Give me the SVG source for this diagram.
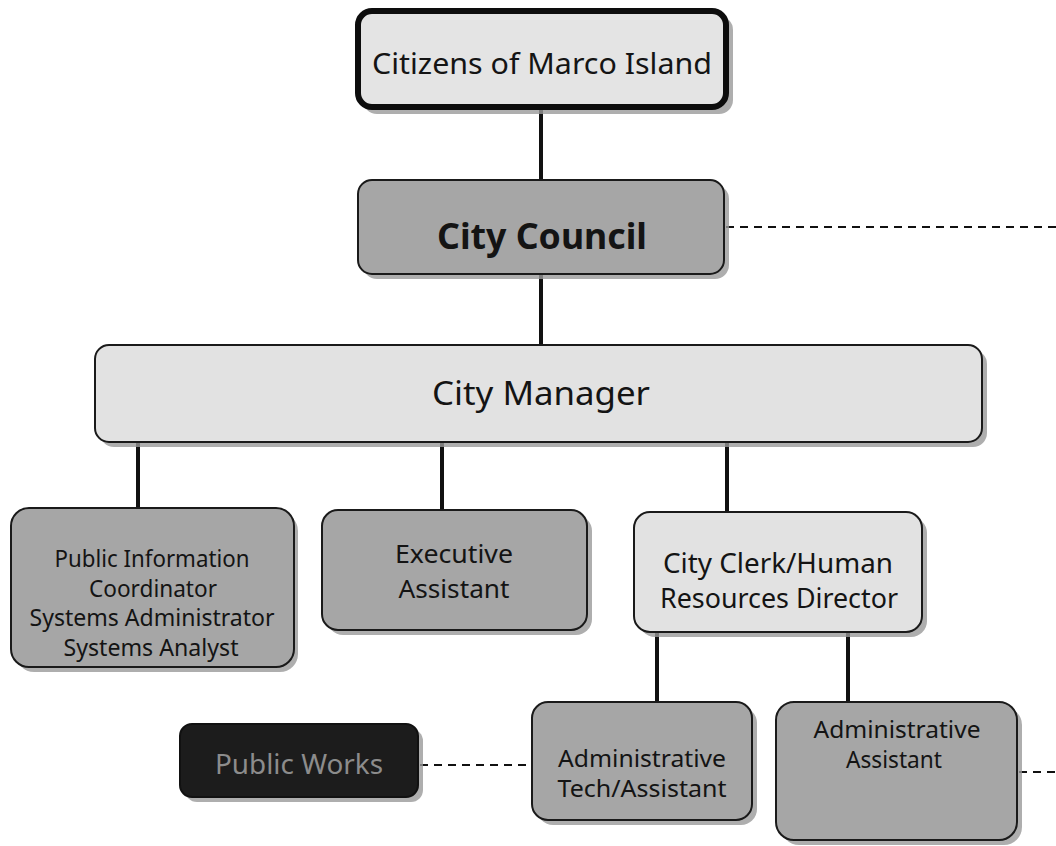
<svg xmlns="http://www.w3.org/2000/svg" width="1056" height="846" viewBox="0 0 1056 846">
<defs>
<style>
.sh{fill:#9a9a9a;opacity:0.8}
.lt{fill:#e2e2e2;stroke:#1a1a1a;stroke-width:2}
.dk{fill:#a6a6a6;stroke:#1a1a1a;stroke-width:2}
.bk{fill:#1c1c1c;stroke:#111;stroke-width:2}
.t{font-family:"Noto Sans","Open Sans",sans-serif;fill:#141414;text-anchor:middle;dominant-baseline:central}
.ln{stroke:#111;stroke-width:4;fill:none}
.ds{stroke:#111;stroke-width:2;fill:none;stroke-dasharray:8 6}
</style>
</defs>
<rect width="1056" height="846" fill="#fff"/>
<g id="connectors">
<line class="ln" x1="541" y1="108" x2="541" y2="180"/>
<line class="ln" x1="541" y1="274" x2="541" y2="345"/>
<line class="ln" x1="138" y1="442" x2="138" y2="509"/>
<line class="ln" x1="442" y1="442" x2="442" y2="510"/>
<line class="ln" x1="727" y1="442" x2="727" y2="512"/>
<line class="ln" x1="657" y1="632" x2="657" y2="702"/>
<line class="ln" x1="848" y1="632" x2="848" y2="702"/>
<line class="ds" x1="726" y1="227" x2="1056" y2="227"/>
<line class="ds" x1="420" y1="765" x2="532" y2="765"/>
<line class="ds" x1="1019" y1="772" x2="1056" y2="772"/>
</g>
<g id="citizens">
<rect class="sh" x="363" y="16" width="370" height="98" rx="14"/>
<rect x="358" y="11" width="368" height="96" rx="14" fill="#e4e4e4" stroke="#0d0d0d" stroke-width="6"/>
<text class="t" x="542" y="62" font-size="29" textLength="340" lengthAdjust="spacingAndGlyphs">Citizens of Marco Island</text>
</g>
<g id="council">
<rect class="sh" x="363" y="185" width="366" height="94" rx="14"/>
<rect class="dk" x="358" y="180" width="366" height="94" rx="14"/>
<text class="t" x="542" y="235" font-size="36" font-weight="bold" textLength="210" lengthAdjust="spacingAndGlyphs">City Council</text>
</g>
<g id="manager">
<rect class="sh" x="100" y="350" width="887" height="97" rx="14"/>
<rect class="lt" x="95" y="345" width="887" height="97" rx="14"/>
<text class="t" x="541" y="392" font-size="33" textLength="218" lengthAdjust="spacingAndGlyphs">City Manager</text>
</g>
<g id="pio">
<rect class="sh" x="16" y="513" width="282" height="159" rx="18"/>
<rect class="dk" x="11" y="508" width="283" height="159" rx="18"/>
<text class="t" x="152" y="558" font-size="23" textLength="195" lengthAdjust="spacingAndGlyphs">Public Information</text>
<text class="t" x="153" y="588" font-size="23" textLength="128" lengthAdjust="spacingAndGlyphs">Coordinator</text>
<text class="t" x="152" y="617" font-size="23" textLength="245" lengthAdjust="spacingAndGlyphs">Systems Administrator</text>
<text class="t" x="151" y="647" font-size="23" textLength="175" lengthAdjust="spacingAndGlyphs">Systems Analyst</text>
</g>
<g id="exec">
<rect class="sh" x="327" y="515" width="265" height="120" rx="16"/>
<rect class="dk" x="322" y="510" width="265" height="120" rx="16"/>
<text class="t" x="454" y="553" font-size="26" textLength="118" lengthAdjust="spacingAndGlyphs">Executive</text>
<text class="t" x="454" y="588" font-size="26" textLength="111" lengthAdjust="spacingAndGlyphs">Assistant</text>
</g>
<g id="clerk">
<rect class="sh" x="639" y="517" width="288" height="120" rx="16"/>
<rect class="lt" x="634" y="512" width="288" height="120" rx="16"/>
<text class="t" x="778" y="562" font-size="27" textLength="230" lengthAdjust="spacingAndGlyphs">City Clerk/Human</text>
<text class="t" x="779" y="597" font-size="27" textLength="238" lengthAdjust="spacingAndGlyphs">Resources Director</text>
</g>
<g id="admintech">
<rect class="sh" x="537" y="707" width="220" height="118" rx="16"/>
<rect class="dk" x="532" y="702" width="220" height="118" rx="16"/>
<text class="t" x="642" y="757" font-size="24" textLength="168" lengthAdjust="spacingAndGlyphs">Administrative</text>
<text class="t" x="642" y="787" font-size="24" textLength="169" lengthAdjust="spacingAndGlyphs">Tech/Assistant</text>
</g>
<g id="adminasst">
<rect class="sh" x="781" y="707" width="241" height="138" rx="18"/>
<rect class="dk" x="776" y="702" width="241" height="138" rx="18"/>
<text class="t" x="897" y="728" font-size="24" textLength="167" lengthAdjust="spacingAndGlyphs">Administrative</text>
<text class="t" x="894" y="758" font-size="24" textLength="96" lengthAdjust="spacingAndGlyphs">Assistant</text>
</g>
<g id="publicworks">
<rect class="sh" x="185" y="729" width="238" height="73" rx="12"/>
<rect class="bk" x="180" y="724" width="238" height="73" rx="12"/>
<text class="t" x="299" y="763" font-size="27" textLength="168" lengthAdjust="spacingAndGlyphs" style="fill:#8c8c8c">Public Works</text>
</g>
</svg>
